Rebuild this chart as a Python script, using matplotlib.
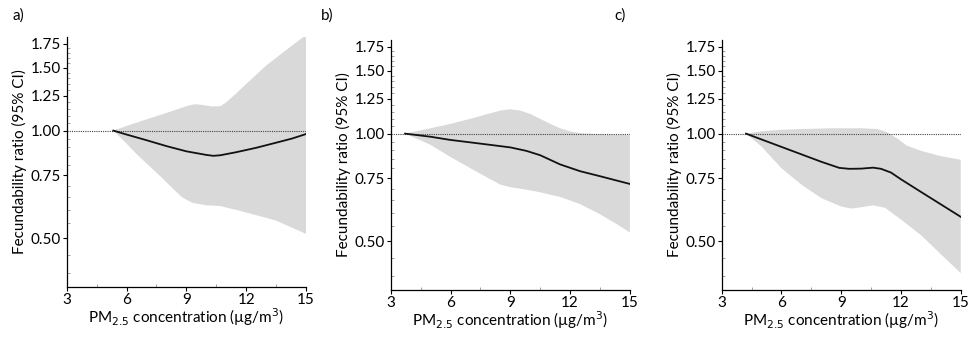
import matplotlib.pyplot as plt
import numpy as np
from matplotlib.ticker import FixedLocator, NullFormatter

plt.rcParams['font.family'] = ['Lato', 'DejaVu Sans']
plt.rcParams['font.size'] = 9

# panel a)
a_x = [5.34, 6.0, 7.0, 8.0, 9.0, 10.0, 10.35, 10.7, 11.5, 12.5, 13.5, 14.3, 15.0]
a_fit = [1.00, 0.975, 0.94, 0.905, 0.875, 0.855, 0.85, 0.853, 0.87, 0.895, 0.925, 0.95, 0.978]
a_hi_x = [5.34, 6.0, 7.0, 8.0, 9.0, 9.4, 9.8, 10.3, 10.7, 11.0, 11.5, 12.0, 13.0, 14.0, 15.0]
a_hi = [1.00, 1.03, 1.075, 1.12, 1.17, 1.185, 1.18, 1.168, 1.17, 1.20, 1.27, 1.35, 1.52, 1.68, 1.85]
a_lo_x = [5.34, 6.0, 6.5, 7.0, 7.7, 8.3, 8.8, 9.3, 10.0, 10.7, 11.5, 12.5, 13.5, 14.3, 15.0]
a_lo = [1.00, 0.92, 0.86, 0.81, 0.745, 0.69, 0.65, 0.628, 0.618, 0.615, 0.60, 0.58, 0.56, 0.535, 0.514]

# panel b)
b_x = [3.72, 5.0, 6.0, 7.0, 8.0, 9.0, 9.8, 10.5, 11.5, 12.5, 13.5, 15.0]
b_fit = [1.00, 0.98, 0.96, 0.945, 0.93, 0.915, 0.895, 0.87, 0.82, 0.785, 0.76, 0.723]
b_hi_x = [3.72, 5.0, 6.0, 7.0, 8.0, 8.5, 9.0, 9.5, 10.0, 10.5, 11.0, 11.5, 12.0, 12.5, 13.5, 15.0]
b_hi = [1.00, 1.035, 1.065, 1.10, 1.14, 1.16, 1.17, 1.16, 1.135, 1.10, 1.065, 1.035, 1.015, 1.003, 0.995, 0.99]
b_lo_x = [3.72, 5.0, 6.0, 7.0, 8.0, 8.5, 9.0, 9.8, 10.5, 11.5, 12.5, 13.5, 14.3, 15.0]
b_lo = [1.00, 0.93, 0.86, 0.80, 0.745, 0.72, 0.708, 0.697, 0.685, 0.665, 0.635, 0.595, 0.56, 0.529]

# panel c)
c_x = [4.22, 5.0, 6.0, 7.0, 8.0, 8.9, 9.4, 10.0, 10.6, 11.0, 11.5, 12.0, 13.0, 14.0, 15.0]
c_fit = [1.00, 0.963, 0.918, 0.875, 0.834, 0.802, 0.797, 0.798, 0.803, 0.797, 0.778, 0.745, 0.687, 0.634, 0.585]
c_hi_x = [4.22, 5.0, 6.0, 7.0, 8.5, 10.0, 10.8, 11.3, 11.8, 12.3, 13.0, 14.0, 15.0]
c_hi = [1.00, 1.015, 1.025, 1.03, 1.035, 1.035, 1.03, 1.01, 0.97, 0.925, 0.895, 0.865, 0.845]
c_lo_x = [4.22, 5.0, 6.0, 7.0, 8.0, 9.0, 9.5, 10.0, 10.6, 11.2, 12.0, 13.0, 14.0, 15.0]
c_lo = [1.00, 0.92, 0.80, 0.72, 0.66, 0.625, 0.617, 0.622, 0.63, 0.62, 0.575, 0.52, 0.46, 0.407]

panels = [
    ('a)', a_x, a_fit, a_hi_x, a_hi, a_lo_x, a_lo),
    ('b)', b_x, b_fit, b_hi_x, b_hi, b_lo_x, b_lo),
    ('c)', c_x, c_fit, c_hi_x, c_hi, c_lo_x, c_lo),
]
x_ticks = [3, 6, 9, 12, 15]
y_ticks = [0.50, 0.75, 1.00, 1.25, 1.50, 1.75]

fig = plt.figure(figsize=(9.72, 3.39), dpi=100)
positions = [
    [0.0686, 0.1534, 0.2462, 0.738],
    [0.4020, 0.1445, 0.2460, 0.738],
    [0.7425, 0.1445, 0.2459, 0.738],
]
label_pos = [(0.013, 0.955), (0.330, 0.955), (0.632, 0.955)]

for (lab, x, fit, hx, hi, lx, lo), pos, lp in zip(panels, positions, label_pos):
    ax = fig.add_axes(pos)
    ax.set_yscale('log')
    # band: upper edge then lower edge back, as one polygon
    ax.fill(list(hx) + list(lx)[::-1], list(hi) + list(lo)[::-1],
            color='#d9d9d9', lw=0)
    ax.axhline(1.0, color='#444444', lw=0.8, ls=(0, (1, 1)))
    ax.plot(x, fit, color='#111111', lw=1.3)
    ax.set_xlim(3, 15)
    ax.set_ylim(0.365, 1.83)
    ax.set_xticks(x_ticks)
    ax.set_xticks(np.arange(4.5, 15, 3), minor=True)
    ax.yaxis.set_major_locator(FixedLocator(y_ticks))
    ax.yaxis.set_minor_locator(FixedLocator(np.arange(0.40, 1.80, 0.05)))
    ax.yaxis.set_major_formatter(plt.FuncFormatter(lambda v, p: '%.2f' % v))
    ax.yaxis.set_minor_formatter(NullFormatter())
    ax.tick_params(which='major', direction='out', length=3, width=0.8, labelsize=11, pad=1)
    ax.tick_params(which='minor', direction='in', length=2, width=0.5, color='#777777')
    for s in ['top', 'right']:
        ax.spines[s].set_visible(False)
    for s in ['left', 'bottom']:
        ax.spines[s].set_linewidth(0.9)
    ax.set_xlabel(r'PM$_{2.5}$ concentration (µg/m$^3$)', fontsize=11, labelpad=0)
    ax.set_ylabel('Fecundability ratio (95% CI)', fontsize=11, labelpad=3)
    fig.text(lp[0], lp[1], lab, fontsize=11, ha='left', va='center')

fig.savefig('out.png', dpi=100)
